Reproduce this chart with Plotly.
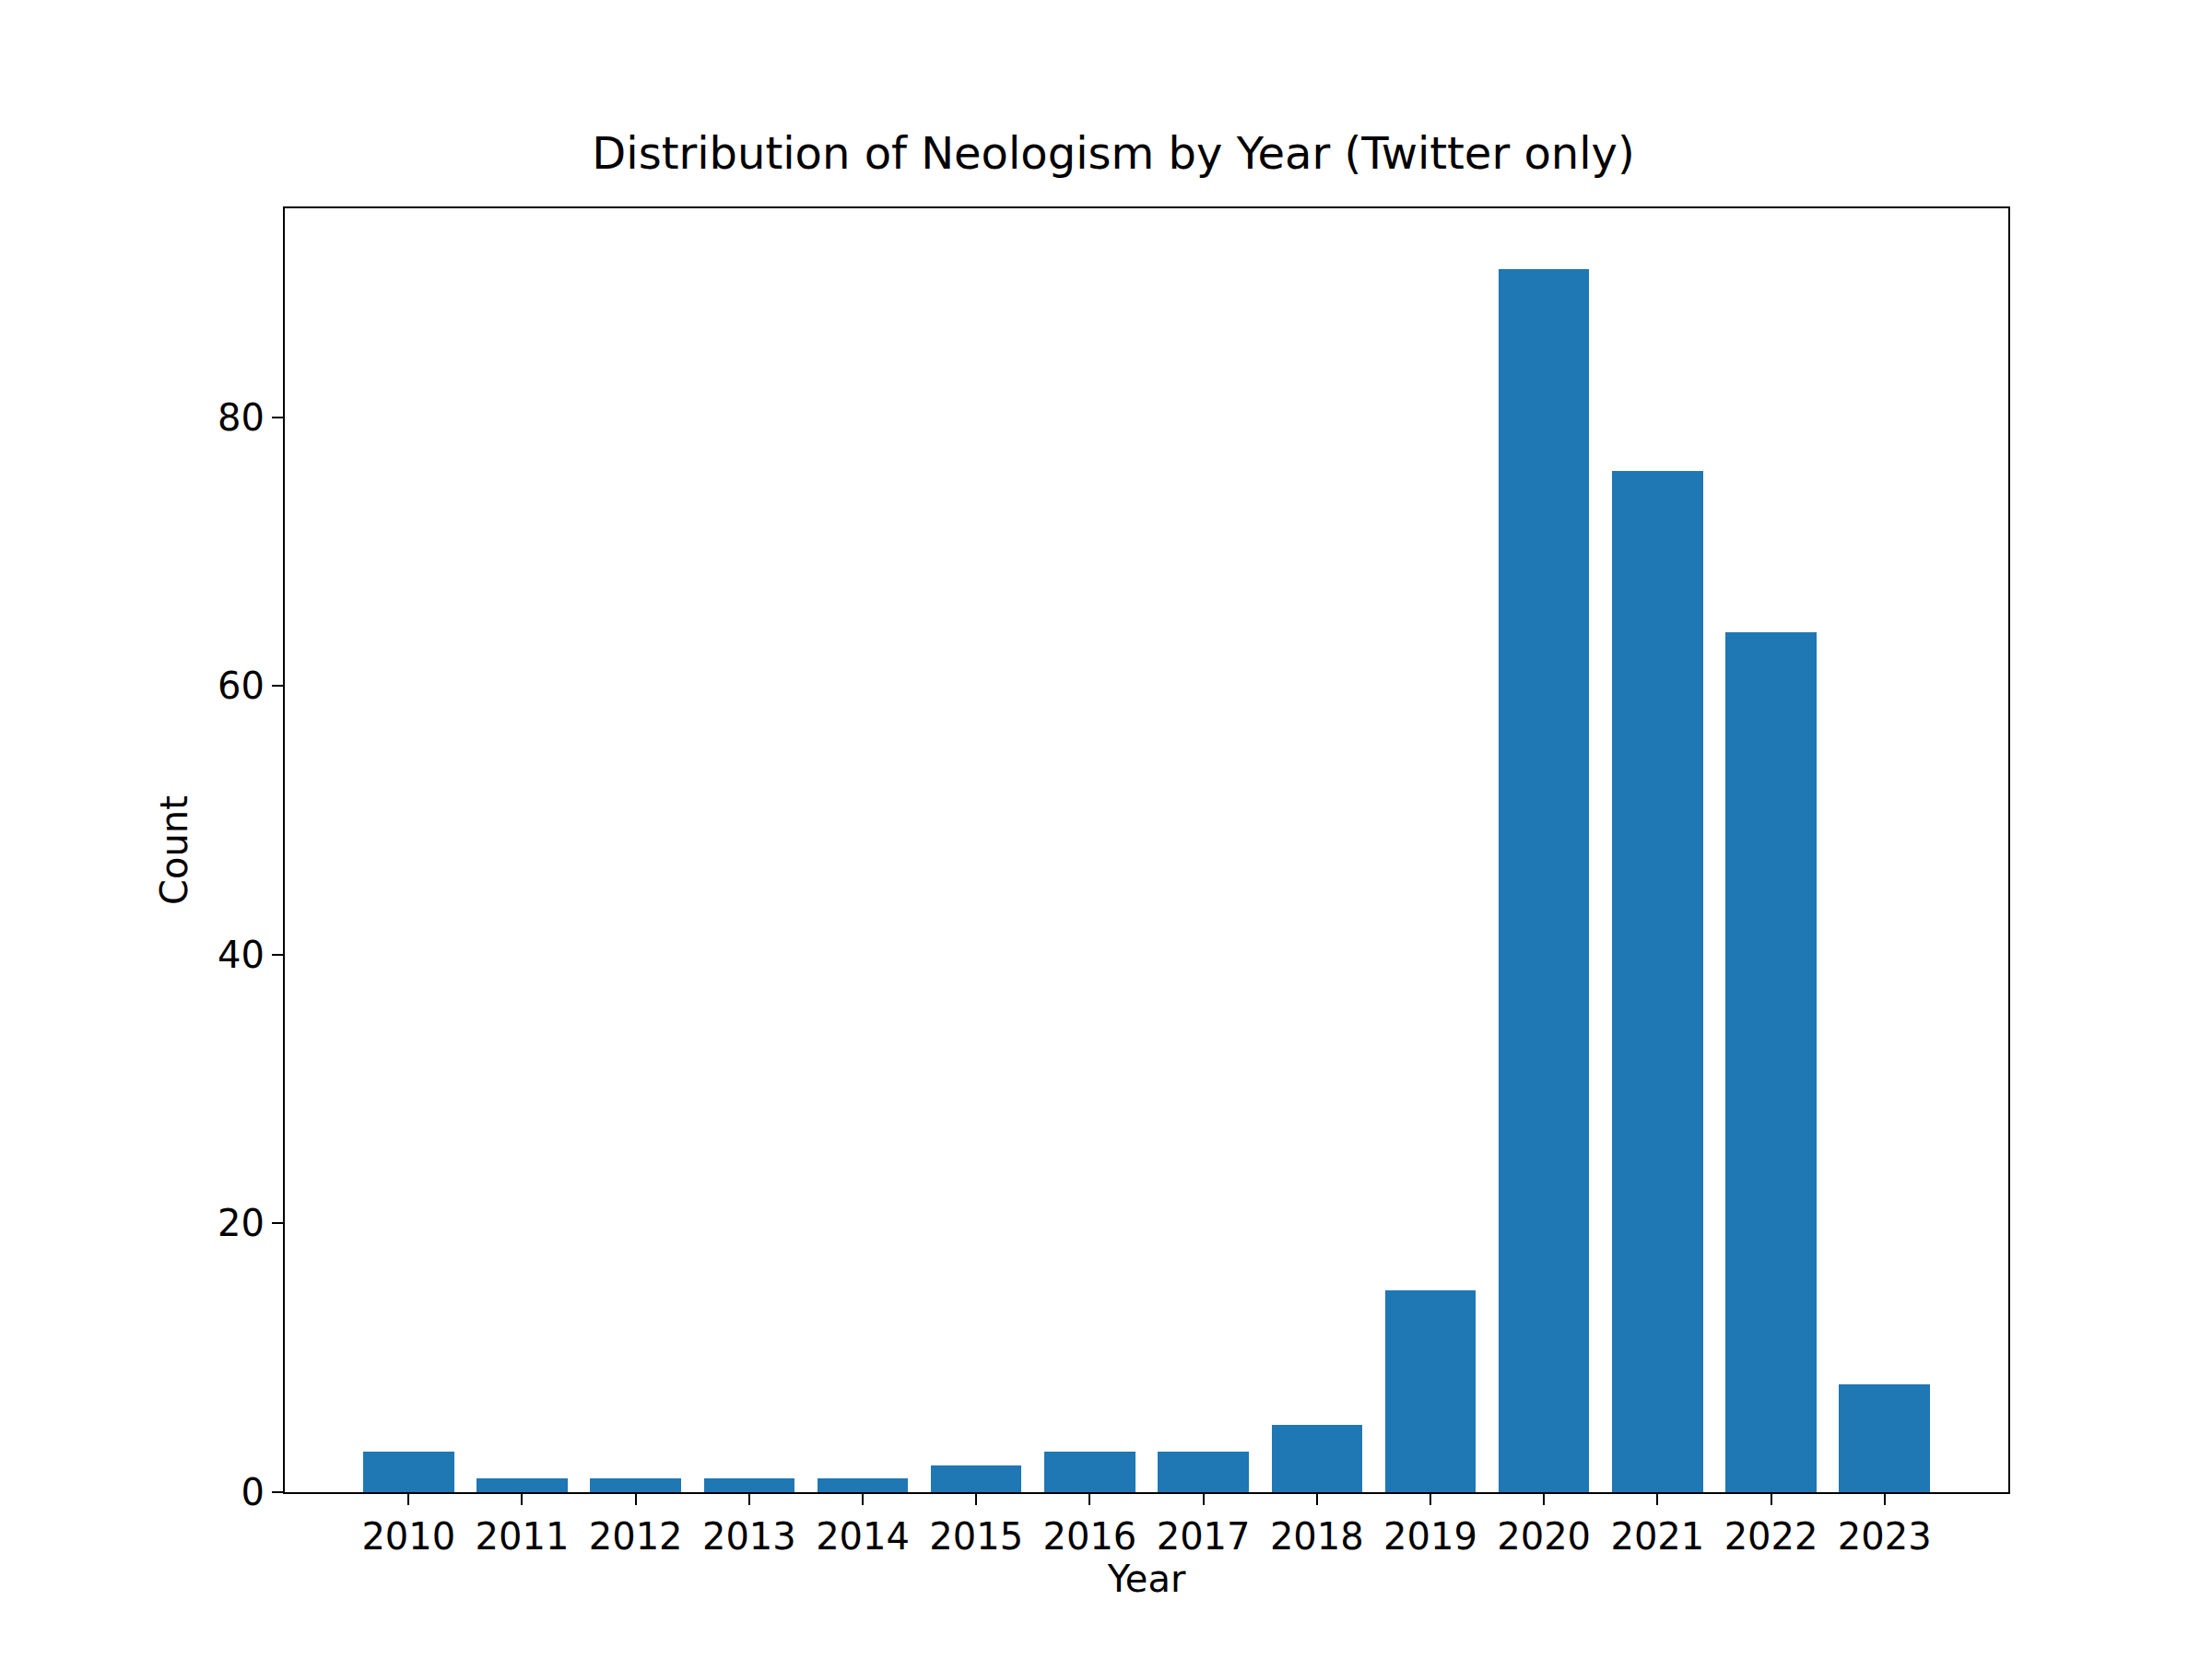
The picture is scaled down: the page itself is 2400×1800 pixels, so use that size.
import plotly.graph_objects as go

years = [2010, 2011, 2012, 2013, 2014, 2015, 2016, 2017, 2018, 2019, 2020, 2021, 2022, 2023]
counts = [3, 1, 1, 1, 1, 2, 3, 3, 5, 15, 91, 76, 64, 8]
y_ticks = [0, 20, 40, 60, 80]

fig = go.Figure()
fig.add_trace(go.Bar(
    x=years, y=counts, width=0.8,
    marker=dict(color="#1f77b4", line=dict(width=0)),
))

axis_common = dict(
    showgrid=False, zeroline=False, showline=True, linecolor="black", linewidth=2,
    mirror=True, ticks="outside", ticklen=12, tickwidth=2, tickcolor="black",
    tickfont=dict(size=40, color="black"),
)

fig.update_layout(
    width=2400, height=1800,
    paper_bgcolor="white", plot_bgcolor="white",
    font=dict(family="DejaVu Sans", color="black"),
    margin=dict(l=301, r=229, t=218, b=189),
    title=dict(text="Distribution of Neologism by Year (Twitter only)", x=0.5, xanchor="center",
               y=1 - 175 / 1800, yanchor="bottom", font=dict(size=48)),
    xaxis=dict(axis_common, range=[2010 - 1.09, 2023 + 1.09], tickvals=years,
               ticktext=[str(y) for y in years],
               title=dict(text="Year", font=dict(size=40), standoff=10)),
    yaxis=dict(axis_common, range=[0, 95.55], tickvals=y_ticks,
               title=dict(text="Count", font=dict(size=40), standoff=20)),
    showlegend=False, bargap=0,
)

fig.write_html("out.html")
